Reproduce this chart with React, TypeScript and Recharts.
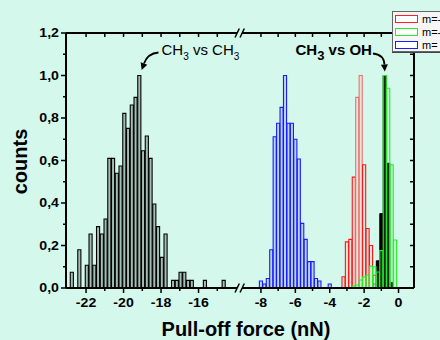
import { ComposedChart, Bar, Cell, XAxis, YAxis, ReferenceDot } from "recharts";

const BG = "#d4f8ec";
const FONT = '"Liberation Sans", Arial, sans-serif';

// CH3 vs CH3 (left part of the broken axis), bin centres in nN and normalised counts
const ch3Force = [
  -22.75, -22.35, -21.95, -21.75, -21.55, -21.35, -21.15, -20.95, -20.75, -20.55, -20.35,
  -20.15, -19.95, -19.75, -19.55, -19.35, -19.15, -18.95, -18.75, -18.55, -18.35, -18.15,
  -17.95, -17.75, -17.35, -17.15, -16.95, -16.75, -16.55, -16.35, -15.65, -14.65,
];
const ch3Counts = [
  0.074, 0.18, 0.107, 0.254, 0.107, 0.289, 0.254, 0.325, 0.61, 0.61, 0.54,
  0.574, 0.822, 0.751, 0.861, 0.897, 1.0, 0.646, 0.715, 0.61, 0.395, 0.289,
  0.144, 0.254, 0.036, 0.036, 0.074, 0.074, 0.036, 0.036, 0.036, 0.036,
];

// blue series
const blueForce = [
  -7.99, -7.79, -7.59, -7.39, -7.19, -6.99, -6.79, -6.59, -6.39, -6.19,
  -5.99, -5.79, -5.59, -5.39, -5.19, -4.99, -4.79, -4.59, -3.99, -1.39,
];
const blueCounts = [
  0.033, 0.019, 0.045, 0.18, 0.712, 0.775, 0.85, 1.0, 0.775, 0.775,
  0.7, 0.607, 0.304, 0.229, 0.124, 0.124, 0.045, 0.033, 0.019, 0.019,
];

// red series
const redForce = [-3.19, -2.99, -2.79, -2.59, -2.39, -2.19, -1.99, -1.79, -1.59, -1.39];
const redCounts = [0.053, 0.217, 0.229, 0.522, 0.897, 1.0, 0.58, 0.28, 0.2, 0.06];

// filled black series (CH3 vs OH)
const darkForce = [-1.19, -0.99, -0.79, -0.59, -0.39];
const darkCounts = [0.128, 0.35, 1.0, 0.587, 0.025];

// green series
const greenForce = [
  -2.59, -2.39, -2.19, -1.99, -1.79, -1.59, -1.39, -1.19, -0.99, -0.79, -0.59, -0.39, -0.19,
];
const greenCounts = [
  0.01, 0.014, 0.038, 0.052, 0.061, 0.103, 0.1, 0.075, 0.176, 1.0, 0.94, 0.58, 0.226,
];

const legendNames = ["m=-2", "m=-1", "m= 0"];
const legendColors = ["#ff2020", "#22ee22", "#1a1aff"];

const xMajor = [-22, -20, -18, -16, -8, -6, -4, -2, 0];
const xMinor = [-21, -19, -17, -15, -7, -5, -3, -1];
const xTop = [-22, -21, -20, -19, -18, -17, -16, -15, -8, -7, -6, -5, -4, -3, -2, -1, 0];
const yTicks = [0, 0.1, 0.2, 0.3, 0.4, 0.5, 0.6, 0.7, 0.8, 0.9, 1.0, 1.1, 1.2];

// broken force axis: two linear pieces joined with a small gap
const LEFT_FROM = -23.07;
const LEFT_TO = -14;
const RIGHT_FROM = -9.1;
const RIGHT_TO = 0.9;
const LEFT_K = 18.75;
const RIGHT_K = 17.2;
const GAP = 6;
const leftLen = (LEFT_TO - LEFT_FROM) * LEFT_K;
const rightStart = leftLen + GAP;
const U_MAX = rightStart + (RIGHT_TO - RIGHT_FROM) * RIGHT_K;
const BREAK_U = leftLen + GAP / 2;
const toU = (f: number) =>
  f <= (LEFT_TO + RIGHT_FROM) / 2 ? (f - LEFT_FROM) * LEFT_K : rightStart + (f - RIGHT_FROM) * RIGHT_K;
const fromU = (u: number) =>
  u <= BREAK_U ? LEFT_FROM + u / LEFT_K : RIGHT_FROM + (u - rightStart) / RIGHT_K;

type Row = { u: number; [k: string]: number };
const rows: Row[] = [];
const addSeries = (key: string, force: number[], counts: number[]) =>
  force.forEach((f, i) => rows.push({ u: toU(f), [key]: counts[i] }));
addSeries("ch3", ch3Force, ch3Counts);
addSeries("blue", blueForce, blueCounts);
addSeries("red", redForce, redCounts);
addSeries("dark", darkForce, darkCounts);
addSeries("green", greenForce, greenCounts);

const tickText = { fontFamily: FONT, fontWeight: "bold" as const, fontSize: 12, fill: "#000" };

const BottomTick = (p: any) => {
  const f = Math.round(fromU(p.payload.value));
  const major = xMajor.includes(f);
  return (
    <g>
      <line x1={p.x} x2={p.x} y1={p.y} y2={p.y + (major ? 5 : 3)} stroke="#000" strokeWidth={1.5} />
      {major && (
        <text transform={`translate(${p.x},${p.y + 19}) scale(1.18,1)`} textAnchor="middle" {...tickText}>
          {String(f)}
        </text>
      )}
    </g>
  );
};

const TopTick = (p: any) => (
  <line x1={p.x} x2={p.x} y1={p.y} y2={p.y + 4} stroke="#000" strokeWidth={1.5} />
);

const LeftTick = (p: any) => {
  const v = p.payload.value as number;
  const major = Math.round(v * 10) % 2 === 0;
  return (
    <g>
      <line x1={p.x - (major ? 5 : 3)} x2={p.x} y1={p.y} y2={p.y} stroke="#000" strokeWidth={1.5} />
      {major && (
        <text transform={`translate(${p.x - 7},${p.y + 4.3}) scale(1.18,1)`} textAnchor="end" {...tickText}>
          {v.toFixed(1).replace(".", ",")}
        </text>
      )}
    </g>
  );
};

const RightTick = (p: any) => (
  <line x1={p.x - 4} x2={p.x} y1={p.y} y2={p.y} stroke="#000" strokeWidth={1.5} />
);

const XTitle = (p: any) => {
  const vb = p.viewBox;
  return (
    <text x={vb.x + vb.width / 2 + 6} y={vb.y + 48} textAnchor="middle" fontFamily={FONT} fontWeight="bold" fontSize={20}>
      Pull-off force (nN)
    </text>
  );
};

const YTitle = (p: any) => {
  const vb = p.viewBox;
  const x = vb.x + 11;
  const y = vb.y + vb.height / 2 + 1;
  return (
    <text x={x} y={y} transform={`rotate(-90 ${x} ${y})`} textAnchor="middle" fontFamily={FONT} fontWeight="bold" fontSize={20}>
      counts
    </text>
  );
};

const BreakMark = (p: any) => {
  const { cx, cy } = p;
  return (
    <g>
      <rect x={cx - 2} y={cy - 2} width={5} height={4} fill={BG} />
      <line x1={cx - 4} y1={cy + 4.5} x2={cx + 0.3} y2={cy - 4.5} stroke="#000" strokeWidth={1.5} />
      <line x1={cx + 1} y1={cy + 4.5} x2={cx + 5.3} y2={cy - 4.5} stroke="#000" strokeWidth={1.5} />
    </g>
  );
};

const arrowHead = (ex: number, ey: number, dx: number, dy: number) => {
  const n = Math.hypot(dx, dy);
  const ux = dx / n;
  const uy = dy / n;
  const tip = [ex + ux * 7, ey + uy * 7];
  return `${tip[0]},${tip[1]} ${ex - uy * 3.5},${ey + ux * 3.5} ${ex + uy * 3.5},${ey - ux * 3.5}`;
};

const NoteCH3 = (p: any) => {
  const { cx, cy } = p;
  return (
    <g>
      <path d={`M${cx + 19},${cy - 23} Q${cx + 8},${cy - 22} ${cx + 4.5},${cy - 12}`} fill="none" stroke="#000" strokeWidth={1.8} />
      <polygon points={arrowHead(cx + 4.5, cy - 12, -3.5, 10)} fill="#000" />
      <text x={cx + 22} y={cy - 20.5} fontFamily={FONT} fontSize={15} fill="#000">
        CH<tspan fontSize={10} dy={5}>3</tspan>
        <tspan dy={-5}> vs CH</tspan>
        <tspan fontSize={10} dy={5}>3</tspan>
      </text>
    </g>
  );
};

const NoteOH = (p: any) => {
  const { cx, cy } = p;
  return (
    <g>
      <path d={`M${cx - 12},${cy - 22} Q${cx - 1},${cy - 21} ${cx - 0.5},${cy - 11}`} fill="none" stroke="#000" strokeWidth={1.8} />
      <polygon points={arrowHead(cx - 0.5, cy - 11, 0.5, 10)} fill="#000" />
      <text x={cx - 13} y={cy - 20.5} textAnchor="end" fontFamily={FONT} fontWeight="bold" fontSize={15} fill="#000">
        CH<tspan fontSize={13} dy={5}>3</tspan>
        <tspan dy={-5}> vs OH</tspan>
      </text>
    </g>
  );
};

export default function App() {
  return (
    <div style={{ position: "absolute", left: 0, top: 0, width: 440, height: 340, background: BG, overflow: "hidden" }}>
      <ComposedChart width={440} height={340} data={rows} margin={{ top: 33, right: 26, bottom: 22, left: 16 }}>
        <XAxis
          dataKey="u"
          type="number"
          domain={[0, U_MAX]}
          allowDataOverflow
          ticks={[...xMajor, ...xMinor].map(toU)}
          interval={0}
          tick={BottomTick}
          tickLine={false}
          tickSize={0}
          tickMargin={0}
          axisLine={{ stroke: "#000", strokeWidth: 2 }}
          height={30}
          label={XTitle}
        />
        <XAxis
          xAxisId="top"
          dataKey="u"
          orientation="top"
          mirror
          type="number"
          domain={[0, U_MAX]}
          allowDataOverflow
          ticks={xTop.map(toU)}
          interval={0}
          tick={TopTick}
          tickLine={false}
          tickSize={0}
          tickMargin={0}
          axisLine={{ stroke: "#000", strokeWidth: 2 }}
        />
        <YAxis
          type="number"
          domain={[0, 1.2]}
          allowDataOverflow
          ticks={yTicks}
          interval={0}
          tick={LeftTick}
          tickLine={false}
          tickSize={0}
          tickMargin={0}
          axisLine={{ stroke: "#000", strokeWidth: 2 }}
          width={50}
          label={YTitle}
        />
        <YAxis
          yAxisId="right"
          orientation="right"
          mirror
          type="number"
          domain={[0, 1.2]}
          allowDataOverflow
          ticks={yTicks}
          interval={0}
          tick={RightTick}
          tickLine={false}
          tickSize={0}
          tickMargin={0}
          axisLine={{ stroke: "#000", strokeWidth: 2 }}
        />
        <Bar dataKey="ch3" stackId="h" barSize={3.5} fill="rgba(60,70,65,0.32)" stroke="#000" strokeWidth={1.1} isAnimationActive={false} />
        <Bar dataKey="blue" stackId="h" barSize={3.5} fill="rgba(90,90,255,0.22)" stroke="#1a1aff" strokeWidth={1.1} isAnimationActive={false} />
        <Bar dataKey="red" stackId="h" barSize={3.5} fill="rgba(255,190,190,0.3)" strokeWidth={1.1} isAnimationActive={false}>
          {rows.map((r, i) => (
            <Cell key={i} stroke={(r.red ?? 0) > 0.85 ? "#f07070" : "#ff1515"} />
          ))}
        </Bar>
        <Bar dataKey="dark" stackId="h" barSize={3.5} fill="#000" stroke="#000" strokeWidth={1} isAnimationActive={false} />
        <Bar dataKey="green" stackId="h" barSize={3.5} fill="rgba(150,255,150,0.15)" stroke="#22ee22" strokeWidth={1.1} isAnimationActive={false} />
        <ReferenceDot x={toU(-19.15)} y={1.0} r={0} ifOverflow="visible" shape={NoteCH3} />
        <ReferenceDot x={toU(-0.79)} y={1.0} r={0} ifOverflow="visible" shape={NoteOH} />
        <ReferenceDot x={BREAK_U} y={0} r={0} ifOverflow="visible" shape={BreakMark} />
        <ReferenceDot x={BREAK_U} y={1.2} r={0} ifOverflow="visible" shape={BreakMark} />
      </ComposedChart>
      <div
        style={{
          position: "absolute",
          left: 392,
          top: 11,
          width: 70,
          height: 39,
          background: "#f6f6f6",
          border: "1px solid #666",
          boxShadow: "0 1px 0 #444",
          fontFamily: FONT,
          fontSize: 11,
        }}
      >
        {legendNames.map((name, i) => (
          <div key={name} style={{ position: "absolute", left: 2, top: 2 + i * 13, display: "flex", alignItems: "center", height: 10 }}>
            <span style={{ display: "inline-block", width: 21, height: 6, border: `1.5px solid ${legendColors[i]}`, background: "#fff" }} />
            <span style={{ marginLeft: 4, whiteSpace: "nowrap", color: "#000" }}>{name}</span>
          </div>
        ))}
      </div>
    </div>
  );
}
